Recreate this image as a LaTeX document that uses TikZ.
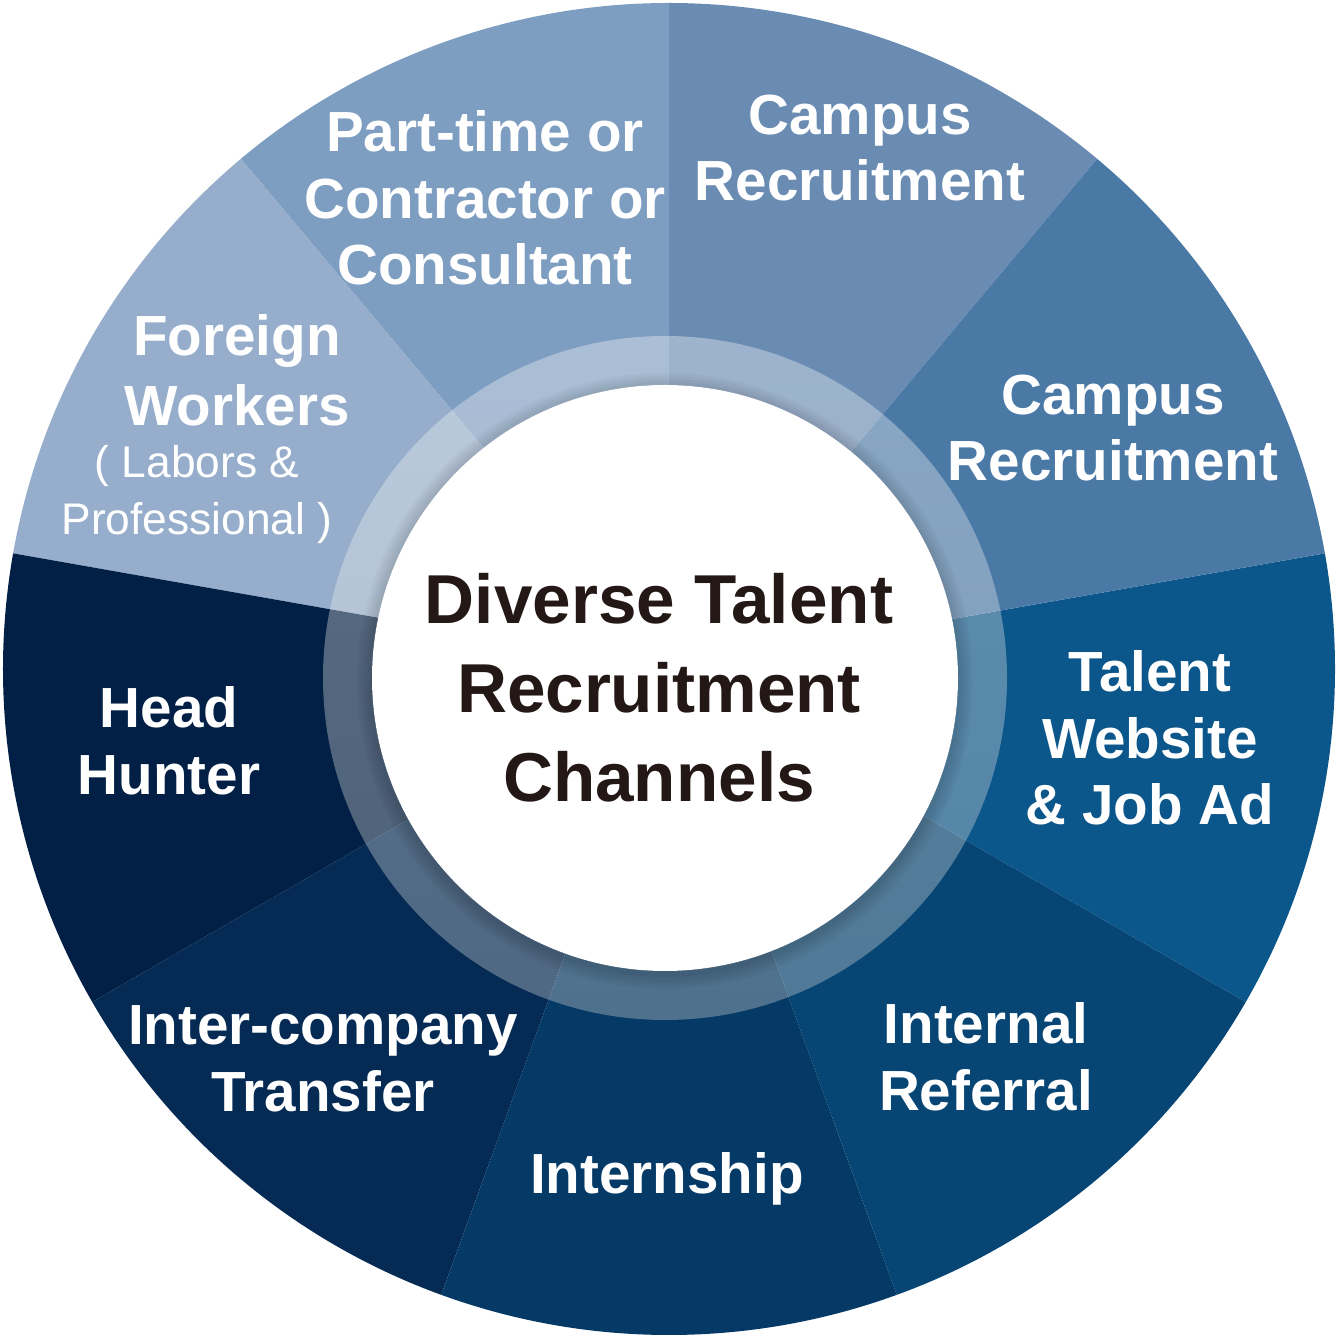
\documentclass[tikz,border=0pt]{standalone}
\usepackage{fontspec}
\setmainfont{Liberation Sans}

\definecolor{campusoben}{HTML}{6A8CB3}
\definecolor{teilzeit}{HTML}{7D9DC1}
\definecolor{ausland}{HTML}{96AECB}
\definecolor{kopfjaeger}{HTML}{022045}
\definecolor{transfer}{HTML}{052B55}
\definecolor{praktikum}{HTML}{053A66}
\definecolor{empfehlung}{HTML}{074674}
\definecolor{webseite}{HTML}{0B568A}
\definecolor{campusrechts}{HTML}{4A79A6}
\definecolor{kerntext}{HTML}{231815}

\begin{document}
\begin{tikzpicture}[
	sektortext/.style={color=white,align=center,inner sep=0pt,
		font=\bfseries\fontsize{16.1}{19}\selectfont},
	zusatztext/.style={color=white,align=center,inner sep=0pt,
		font=\fontsize{12.6}{16.2}\selectfont},
	kerntitel/.style={color=kerntext,align=center,inner sep=0pt,
		font=\bfseries\fontsize{19.7}{25.3}\selectfont}]

\def\bildgroesse{13.39}
\def\aussenradius{6.66}
\def\ringradius{3.42}
\def\innenradius{2.93}

\useasboundingbox (0,0) rectangle ({\bildgroesse},{\bildgroesse});

\coordinate (mitte) at (6.69,6.70);
\coordinate (kern) at (6.65,6.61);
\coordinate (schatten) at (6.65,6.58);

% Sektoren, je 40 Grad
\fill[campusoben] (mitte) -- ++(50:\aussenradius)
	arc[start angle=50,end angle=90,radius=\aussenradius] -- cycle;
\fill[teilzeit] (mitte) -- ++(90:\aussenradius)
	arc[start angle=90,end angle=130,radius=\aussenradius] -- cycle;
\fill[ausland] (mitte) -- ++(130:\aussenradius)
	arc[start angle=130,end angle=170,radius=\aussenradius] -- cycle;
\fill[kopfjaeger] (mitte) -- ++(170:\aussenradius)
	arc[start angle=170,end angle=210,radius=\aussenradius] -- cycle;
\fill[transfer] (mitte) -- ++(210:\aussenradius)
	arc[start angle=210,end angle=250,radius=\aussenradius] -- cycle;
\fill[praktikum] (mitte) -- ++(250:\aussenradius)
	arc[start angle=250,end angle=290,radius=\aussenradius] -- cycle;
\fill[empfehlung] (mitte) -- ++(290:\aussenradius)
	arc[start angle=290,end angle=330,radius=\aussenradius] -- cycle;
\fill[webseite] (mitte) -- ++(330:\aussenradius)
	arc[start angle=330,end angle=370,radius=\aussenradius] -- cycle;
\fill[campusrechts] (mitte) -- ++(10:\aussenradius)
	arc[start angle=10,end angle=50,radius=\aussenradius] -- cycle;

% durchscheinender Ring
\shade[top color=white,bottom color=white!85!black,opacity=0.35,even odd rule]
	(kern) circle[radius=\ringradius] (kern) circle[radius=\innenradius];

% Schatten um den Kern
\fill[black,opacity=0.03] (schatten) circle[radius=3.08];
\fill[black,opacity=0.03] (schatten) circle[radius=3.05];
\fill[black,opacity=0.03] (schatten) circle[radius=3.02];
\fill[black,opacity=0.03] (schatten) circle[radius=2.99];
\fill[black,opacity=0.03] (schatten) circle[radius=2.96];

\fill[white] (kern) circle[radius=\innenradius];

\node (campusa) at (8.60,11.91)
	[sektortext]
	{Campus\\Recruitment};

\node (teilzeitkraft) at (4.85,11.41)
	[sektortext]
	{Part-time or\\Contractor or\\Consultant};

\node (auslandkraft) at (2.37,9.69)
	[sektortext,font=\bfseries\fontsize{16.1}{20}\selectfont]
	{Foreign\\Workers};

\node (auslandzusatz) at (1.97,8.44)
	[zusatztext]
	{( Labors \&\\Professional )};

\node (campusb) at (11.13,9.11)
	[sektortext]
	{Campus\\Recruitment};

\node (talentseite) at (11.50,6.01)
	[sektortext]
	{Talent\\Website\\\& Job Ad};

\node (referral) at (9.86,2.82)
	[sektortext]
	{Internal\\Referral};

\node (internship) at (6.67,1.60)
	[sektortext]
	{Internship};

\node (intercompany) at (3.23,2.80)
	[sektortext]
	{Inter-company\\Transfer};

\node (headhunter) at (1.69,5.98)
	[sektortext]
	{Head\\Hunter};

\node (kanaele) at (6.59,6.51)
	[kerntitel]
	{Diverse Talent\\Recruitment\\Channels};

\end{tikzpicture}
\end{document}
